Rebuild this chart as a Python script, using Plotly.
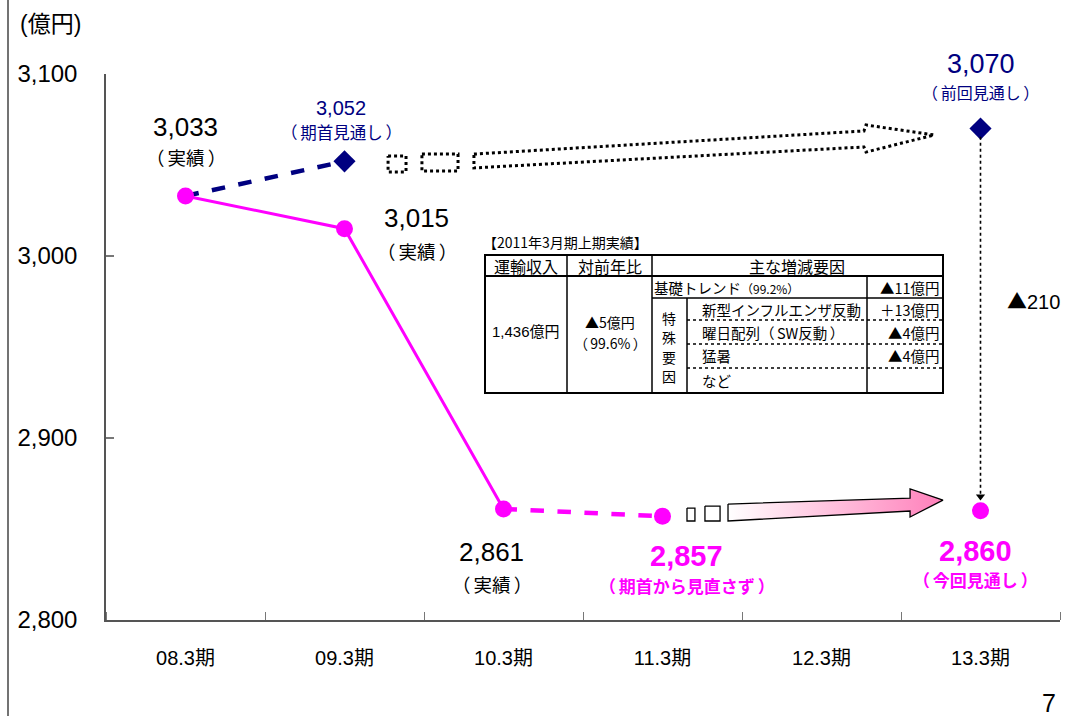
import plotly.graph_objects as go

# ---------------------------------------------------------------- data
periods = ["08.3期", "09.3期", "10.3期", "11.3期", "12.3期", "13.3期"]

actual_idx = [0, 1, 2]
actual_vals = [3033, 3015, 2861]          # 実績

plan09_idx = [0, 1]
plan09_vals = [3033, 3052]                # 08.3 実績 -> 09.3 期首見通し

plan11_idx = [2, 3]
plan11_vals = [2861, 2857]                # 10.3 実績 -> 11.3 期首から見直さず

prev_forecast_13 = 3070                   # 前回見通し
new_forecast_13 = 2860                    # 今回見通し

y_ticks = [2800, 2900, 3000, 3100]

# ---------------------------------------------------------------- styles
FONT = "Liberation Sans, Arial, Noto Sans CJK JP, sans-serif"
JP = "Noto Sans CJK JP, sans-serif"
TRI = "<span style='font-family:Noto Sans CJK JP'>▲</span>"
MAGENTA = "#FF00FF"
NAVY = "#000080"
AXIS = "#555555"

W, H = 1077, 716
L, R, T, B = 106, 1060, 74, 620


def px(xp):
    """page pixel -> paper x"""
    return (xp - L) / (R - L)


def py(yp):
    """page pixel -> paper y"""
    return (B - yp) / (B - T)


def paren(s):
    """Full-width brackets with a little air inside, as in the slide deck."""
    return "（\u2006" + s + "\u2006）"


fig = go.Figure()

# ---------------------------------------------------------------- decorative block arrows
# dotted outline arrow from the 09.3 plan toward the previous 13.3 forecast
dot_arrow_x = [1.814, 4.267, 4.280, 4.708, 4.280, 4.267, 1.814, 1.814]
dot_arrow_y = [3056.0, 3068.7, 3072.0, 3066.5, 3057.1, 3059.9, 3048.4, 3056.0]
dot_box_x = [1.274, 1.387, 1.387, 1.274, 1.274, None, 1.487, 1.714, 1.714, 1.487, 1.487]
dot_box_y = [3054.9, 3054.9, 3046.2, 3046.2, 3054.9, None, 3056.0, 3056.0, 3046.7, 3046.7, 3056.0]
for xs, ys in [(dot_arrow_x, dot_arrow_y), (dot_box_x, dot_box_y)]:
    fig.add_trace(go.Scatter(
        x=xs, y=ys, mode="lines", hoverinfo="skip", showlegend=False,
        line=dict(color="black", width=3, dash="dot"), cliponaxis=False,
    ))

# gradient arrow from the 11.3 plan toward the new 13.3 forecast
pink_arrow_x = [3.412, 4.557, 4.557, 4.764, 4.557, 4.557, 3.412, 3.412]
pink_arrow_y = [2863.7, 2867.0, 2872.0, 2865.9, 2856.6, 2859.9, 2854.4, 2863.7]
fig.add_trace(go.Scatter(
    x=pink_arrow_x, y=pink_arrow_y, mode="lines", fill="toself",
    fillgradient=dict(type="horizontal",
                      colorscale=[[0, "#FFFFFF"], [1, "#FF7FBA"]]),
    line=dict(color="black", width=1.3), hoverinfo="skip", showlegend=False,
    cliponaxis=False,
))
pink_box_x = [3.154, 3.204, 3.204, 3.154, 3.154, None, 3.267, 3.362, 3.362, 3.267, 3.267]
pink_box_y = [2861.5, 2861.5, 2854.4, 2854.4, 2861.5, None, 2862.6, 2862.6, 2854.4, 2854.4, 2862.6]
fig.add_trace(go.Scatter(
    x=pink_box_x, y=pink_box_y, mode="lines",
    line=dict(color="black", width=1.3), hoverinfo="skip", showlegend=False,
    cliponaxis=False,
))

# ---------------------------------------------------------------- series
fig.add_trace(go.Scatter(
    x=plan09_idx, y=plan09_vals, mode="lines",
    line=dict(color=NAVY, width=4.5, dash="dash"),
    hoverinfo="skip", showlegend=False, cliponaxis=False,
))
fig.add_trace(go.Scatter(
    x=plan11_idx, y=plan11_vals, mode="lines",
    line=dict(color=MAGENTA, width=4.5, dash="dash"),
    hoverinfo="skip", showlegend=False, cliponaxis=False,
))
fig.add_trace(go.Scatter(
    x=actual_idx, y=actual_vals, mode="lines+markers",
    line=dict(color=MAGENTA, width=3),
    marker=dict(symbol="circle", size=17, color=MAGENTA),
    showlegend=False, cliponaxis=False,
))
fig.add_trace(go.Scatter(
    x=[plan11_idx[-1], 5], y=[plan11_vals[-1], new_forecast_13], mode="markers",
    marker=dict(symbol="circle", size=17, color=MAGENTA),
    showlegend=False, cliponaxis=False,
))
fig.add_trace(go.Scatter(
    x=[plan09_idx[-1], 5], y=[plan09_vals[-1], prev_forecast_13], mode="markers",
    marker=dict(symbol="diamond", size=17, color=NAVY),
    showlegend=False, cliponaxis=False,
))

# vertical dotted arrow: previous forecast -> new forecast
fig.add_shape(type="line", xref="x", yref="y",
              x0=5, x1=5, y0=prev_forecast_13 - 4.5, y1=new_forecast_13 + 9,
              line=dict(color="black", width=1.6, dash="dot"))
fig.add_trace(go.Scatter(
    x=[5], y=[new_forecast_13 + 7.8], mode="markers",
    marker=dict(symbol="triangle-down", size=8, color="black"),
    hoverinfo="skip", showlegend=False, cliponaxis=False,
))


# ---------------------------------------------------------------- value labels
def label(x, y, text, dx, dy, size, color="black", bold=False, family=FONT):
    if bold:
        text = f"<b>{text}</b>"
    fig.add_annotation(x=x, y=y, text=text, showarrow=False, xshift=dx, yshift=dy,
                       font=dict(family=family, size=size, color=color),
                       xanchor="center", yanchor="middle")


label(0, actual_vals[0], f"{actual_vals[0]:,}", 0, 69, 26)
label(0, actual_vals[0], paren("実績"), 0, 39, 18.5, family=JP)
label(1, actual_vals[1], f"{actual_vals[1]:,}", 72, 11, 26)
label(1, actual_vals[1], paren("実績"), 72, -22, 18.5, family=JP)
label(2, actual_vals[2], f"{actual_vals[2]:,}", -12, -43, 26)
label(2, actual_vals[2], paren("実績"), -12, -75, 18.5, family=JP)

label(1, plan09_vals[-1], f"{plan09_vals[-1]:,}", -4, 53, 20, NAVY)
label(1, plan09_vals[-1], paren("期首見通し"), -3, 29, 16.5, NAVY, family=JP)

label(3, plan11_vals[-1], f"{plan11_vals[-1]:,}", 24, -40, 29, MAGENTA, True)
label(3, plan11_vals[-1], paren("期首から見直さず"), 24, -69, 17, MAGENTA, True, JP)

label(5, new_forecast_13, f"{new_forecast_13:,}", -5, -40, 29, MAGENTA, True)
label(5, new_forecast_13, paren("今回見通し"), -5, -69, 17, MAGENTA, True, JP)

label(5, prev_forecast_13, f"{prev_forecast_13:,}", 0, 65, 27, NAVY)
label(5, prev_forecast_13, paren("前回見通し"), 0, 37, 16, NAVY, family=JP)

mid = (prev_forecast_13 + new_forecast_13) / 2
label(5, mid, f"{TRI}{prev_forecast_13 - new_forecast_13}", 53, 19, 20)

# ---------------------------------------------------------------- page texts
fig.add_annotation(xref="paper", yref="paper", x=px(18), y=py(24), text="(億円)",
                   showarrow=False, xanchor="left", yanchor="middle",
                   font=dict(family=FONT, size=23, color="black"))
fig.add_annotation(xref="paper", yref="paper", x=px(1049), y=py(703), text="7",
                   showarrow=False, xanchor="center", yanchor="middle",
                   font=dict(family=FONT, size=25, color="black"))
fig.add_shape(type="line", xref="paper", yref="paper",
              x0=px(8), x1=px(8), y0=py(716), y1=py(0),
              line=dict(color="#444444", width=1.5))

# ---------------------------------------------------------------- inset table
TF = dict(family=JP, size=14, color="black")


def hline(y, x0, x1, w=1.5, dash="solid"):
    fig.add_shape(type="line", xref="paper", yref="paper",
                  x0=px(x0), x1=px(x1), y0=py(y), y1=py(y),
                  line=dict(color="black", width=w, dash=dash))


def vline(x, y0, y1, w=1.5):
    fig.add_shape(type="line", xref="paper", yref="paper",
                  x0=px(x), x1=px(x), y0=py(y0), y1=py(y1),
                  line=dict(color="black", width=w))


def ttext(x, y, s, anchor="center", size=14.5, family=JP):
    fig.add_annotation(xref="paper", yref="paper", x=px(x), y=py(y), text=s,
                       showarrow=False, xanchor=anchor, yanchor="middle",
                       font=dict(TF, size=size, family=family))


tx0, tx1, ty0, ty1 = 485, 943, 255, 393
fig.add_shape(type="rect", xref="paper", yref="paper",
              x0=px(tx0), x1=px(tx1), y0=py(ty1), y1=py(ty0),
              line=dict(color="black", width=2))
hline(276, tx0, tx1, 2)
vline(567, ty0, ty1)
vline(652, ty0, ty1)
hline(298, 652, tx1)
vline(867, 276, ty1)
vline(687, 298, ty1)
for yy in (320, 344, 368):
    hline(yy, 687, tx1, 1.5, "dot")

ttext(481, 242, "【2011年3月期上期実績】", "left", 14)
ttext(526, 266, "運輸収入", size=16)
ttext(610, 266, "対前年比", size=16)
ttext(797, 266, "主な増減要因", size=16)
ttext(526, 331, "1,436億円", size=15, family=FONT)
ttext(610, 322, "▲5億円", size=14)
ttext(610, 343, paren("99.6%"), size=14)
ttext(652, 287, "基礎トレンド<span style='font-size:12px'>（99.2%）</span>", "left")
ttext(942, 287, "▲11億円", "right")
for k, ch in enumerate("特殊要因"):
    ttext(669, 318 + 19.3 * k, ch, size=14)
ttext(700, 309, "新型インフルエンザ反動", "left")
ttext(942, 309, "＋13億円", "right")
ttext(700, 332, "曜日配列" + paren("SW反動"), "left")
ttext(942, 332, "▲4億円", "right")
ttext(700, 356, "猛暑", "left")
ttext(942, 356, "▲4億円", "right")
ttext(700, 380, "など", "left")

# ---------------------------------------------------------------- axes / layout
fig.update_layout(
    width=W, height=H,
    margin=dict(l=L, r=W - R, t=T, b=H - B),
    paper_bgcolor="white", plot_bgcolor="white",
    font=dict(family=FONT, color="black"),
    xaxis=dict(
        range=[-0.5, 5.5], tickvals=list(range(len(periods))), ticktext=periods,
        ticks="", showgrid=False, zeroline=False,
        showline=True, linecolor=AXIS, linewidth=1.5,
        tickfont=dict(family=FONT, size=20, color="black"),
        ticklabelstandoff=19,
        minor=dict(tickvals=[i - 0.5 for i in range(len(periods) + 1)],
                   ticks="inside", ticklen=8, tickcolor="#777777", tickwidth=1,
                   showgrid=False),
    ),
    yaxis=dict(
        range=[y_ticks[0], y_ticks[-1]], tickvals=y_ticks, tickformat=",",
        ticks="inside", ticklen=8, tickcolor="#777777", tickwidth=1.5,
        showgrid=False, zeroline=False,
        showline=True, linecolor=AXIS, linewidth=1.5,
        tickfont=dict(family=FONT, size=24, color="black"),
        ticklabelstandoff=22,
    ),
)

fig.write_html("out.html")
